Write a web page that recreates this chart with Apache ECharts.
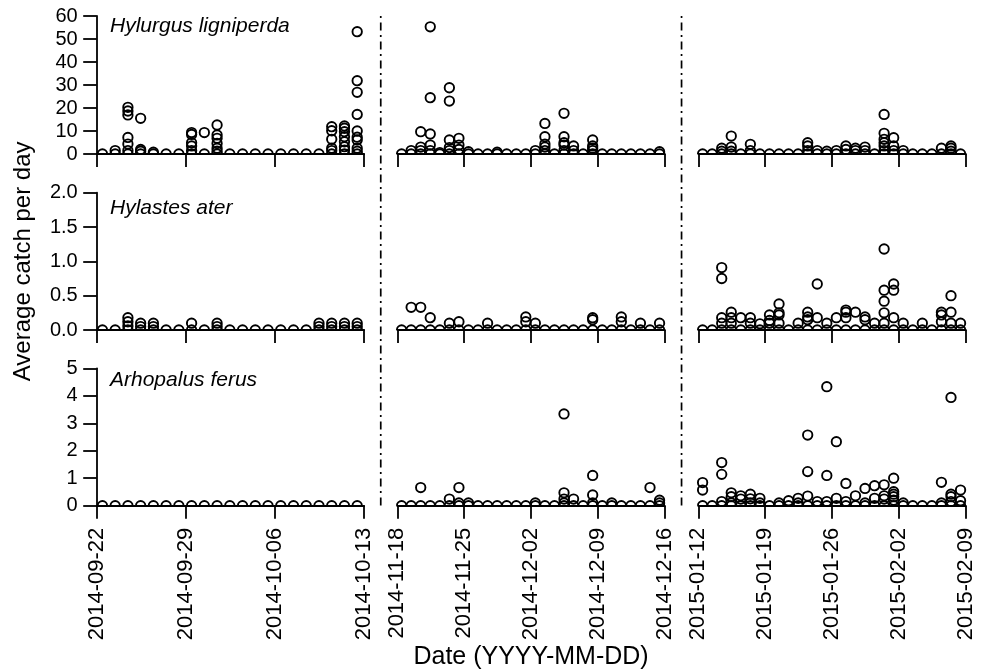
<!DOCTYPE html>
<html><head><meta charset="utf-8">
<script src="https://cdn.jsdelivr.net/npm/echarts@6/dist/echarts.min.js"></script>
<style>html,body{margin:0;padding:0;background:#fff}#c{width:987px;height:672px}</style>
</head><body><div id="c"></div>
<script>
// ---------------- DATA ----------------
const species = ['Hylurgus ligniperda', 'Hylastes ater', 'Arhopalus ferus'];
const periodLength = [21, 28, 28]; // days shown in each period panel
const tickLabelsP1 = ['2014-09-22', '2014-09-29', '2014-10-06', '2014-10-13'];
const tickLabelsP2 = ['2014-11-18', '2014-11-25', '2014-12-02', '2014-12-09', '2014-12-16'];
const tickLabelsP3 = ['2015-01-12', '2015-01-19', '2015-01-26', '2015-02-02', '2015-02-09'];
const yMax = [60, 2, 5];
const yStep = [10, 0.5, 1];

// collection days (days after period start) – every trap had zero catches on these days
const sampleDaysP1 = [0.45,1.45,2.45,3.45,4.45,5.45,6.45,7.45,8.45,9.45,10.45,11.45,12.45,13.45,14.45,15.45,16.45,17.45,18.45,19.45,20.45];
const sampleDaysP2 = [0.45,1.45,2.45,3.45,4.45,5.45,6.45,7.45,8.45,9.45,10.45,11.45,12.45,13.45,14.45,15.45,16.45,17.45,18.45,19.45,20.45,21.45,22.45,23.45,24.45,25.45,26.45,27.45];
const sampleDaysP3 = [0.45,1.45,2.45,3.45,4.45,5.45,6.45,7.45,8.45,9.45,10.45,11.45,12.45,13.45,14.45,15.45,16.45,17.45,18.45,19.45,20.45,21.45,22.45,23.45,24.45,25.45,26.45,27.45];

// non-zero catches [day, average catch per day]
const hylurgusP1 = [[1.45,1.5],[2.45,20.3],[2.45,18.7],[2.45,17],[2.45,7.2],[2.45,4.3],[2.45,1.5],[3.45,15.5],[3.45,2],[3.45,1.2],[4.45,0.8],
  [7.45,9.3],[7.45,8.5],[7.45,4.9],[7.45,3.5],[7.45,1.5],[8.45,9.3],[9.45,12.6],[9.45,8.3],[9.45,6.8],[9.45,4.6],[9.45,2.5],[9.45,1.2],
  [18.45,11.9],[18.45,10.1],[18.45,6.4],[18.45,2.5],[18.45,1.5],[19.45,12.2],[19.45,11.2],[19.45,9.7],[19.45,7.5],[19.45,5.3],[19.45,3.2],[19.45,1.7],
  [20.45,53.2],[20.45,31.9],[20.45,26.8],[20.45,17.2],[20.45,10],[20.45,7.3],[20.45,6.1],[20.45,2.5],[20.45,1.2]];
const hylurgusP2 = [[1.45,1.5],[2.45,9.7],[2.45,3],[2.45,1.5],[3.45,55.3],[3.45,24.5],[3.45,8.7],[3.45,3.9],[3.45,1.5],[4.45,0.6],
  [5.45,28.8],[5.45,23],[5.45,6.1],[5.45,2.8],[5.45,1.5],[6.45,6.8],[6.45,3.9],[6.45,2],[7.45,1],[10.45,0.8],[14.45,1.5],
  [15.45,13.3],[15.45,7.5],[15.45,4.3],[15.45,3],[15.45,1.5],[17.45,17.7],[17.45,7.5],[17.45,4.9],[17.45,3.9],[17.45,1.5],
  [18.45,3.5],[18.45,1.5],[20.45,6.1],[20.45,3.5],[20.45,2.5],[20.45,1.5],[27.45,1]];
const hylurgusP3 = [[2.45,2.5],[2.45,1.2],[3.45,7.8],[3.45,3],[3.45,1.2],[5.45,4.2],[5.45,1.5],[11.45,4.9],[11.45,3.5],[11.45,1.5],[12.45,1.5],
  [13.45,1.2],[14.45,1.5],[15.45,3.5],[15.45,2],[16.45,2.5],[16.45,1.5],[17.45,3],[17.45,1.5],
  [19.45,17.2],[19.45,9],[19.45,6.4],[19.45,4.9],[19.45,3.5],[19.45,1.5],[20.45,7.1],[20.45,3.5],[20.45,1.5],[21.45,1.5],
  [25.45,2.5],[26.45,3.5],[26.45,2.5],[26.45,1.2]];
const hylastesP1 = [[2.45,0.18],[2.45,0.12],[2.45,0.06],[3.45,0.1],[3.45,0.05],[4.45,0.1],[4.45,0.05],[7.45,0.1],[9.45,0.1],[9.45,0.05],
  [17.45,0.1],[17.45,0.05],[18.45,0.1],[18.45,0.05],[19.45,0.1],[19.45,0.05],[20.45,0.1],[20.45,0.05]];
const hylastesP2 = [[1.45,0.33],[2.45,0.33],[3.45,0.18],[5.45,0.1],[6.45,0.12],[9.45,0.1],[13.45,0.19],[13.45,0.12],[14.45,0.1],
  [20.45,0.18],[20.45,0.15],[23.45,0.19],[23.45,0.12],[25.45,0.1],[27.45,0.1]];
const hylastesP3 = [[2.45,0.91],[2.45,0.75],[2.45,0.18],[2.45,0.1],[3.45,0.26],[3.45,0.18],[3.45,0.1],[4.45,0.18],[5.45,0.18],[5.45,0.1],[6.45,0.09],
  [7.45,0.22],[7.45,0.14],[7.45,0.1],[8.45,0.38],[8.45,0.25],[8.45,0.22],[8.45,0.1],[10.45,0.1],[11.45,0.26],[11.45,0.19],[11.45,0.15],
  [12.45,0.67],[12.45,0.18],[13.45,0.1],[14.45,0.18],[15.45,0.29],[15.45,0.26],[15.45,0.18],[16.45,0.26],[17.45,0.19],[17.45,0.15],[18.45,0.1],
  [19.45,1.18],[19.45,0.58],[19.45,0.42],[19.45,0.25],[19.45,0.1],[20.45,0.67],[20.45,0.58],[20.45,0.18],[21.45,0.1],[23.45,0.1],
  [25.45,0.26],[25.45,0.22],[25.45,0.12],[26.45,0.5],[26.45,0.26],[26.45,0.1],[27.45,0.1]];
const arhopalusP1 = [];
const arhopalusP2 = [[2.45,0.66],[5.45,0.24],[6.45,0.66],[6.45,0.1],[7.45,0.1],[14.45,0.1],[17.45,3.34],[17.45,0.47],[17.45,0.24],[17.45,0.1],
  [18.45,0.24],[20.45,1.1],[20.45,0.39],[20.45,0.1],[22.45,0.1],[26.45,0.66],[27.45,0.2],[27.45,0.1]];
const arhopalusP3 = [[0.45,0.84],[0.45,0.57],[2.45,1.57],[2.45,1.14],[2.45,0.15],[3.45,0.47],[3.45,0.33],[3.45,0.1],[4.45,0.36],[4.45,0.24],
  [5.45,0.42],[5.45,0.25],[5.45,0.1],[6.45,0.27],[6.45,0.1],[8.45,0.1],[9.45,0.18],[10.45,0.27],[10.45,0.1],
  [11.45,2.57],[11.45,1.24],[11.45,0.35],[12.45,0.15],[13.45,4.33],[13.45,1.1],[13.45,0.15],[14.45,2.33],[14.45,0.27],
  [15.45,0.81],[15.45,0.15],[16.45,0.36],[17.45,0.63],[17.45,0.1],[18.45,0.73],[18.45,0.27],[19.45,0.76],[19.45,0.36],[19.45,0.24],
  [20.45,1.0],[20.45,0.51],[20.45,0.42],[20.45,0.33],[20.45,0.2],[21.45,0.1],[25.45,0.85],[25.45,0.1],
  [26.45,3.94],[26.45,0.42],[26.45,0.33],[26.45,0.15],[27.45,0.57],[27.45,0.18]];

// ---------------- LAYOUT ----------------
const tickLabels = [tickLabelsP1, tickLabelsP2, tickLabelsP3];
const sampleDays = [sampleDaysP1, sampleDaysP2, sampleDaysP3];
const catches = [[hylurgusP1, hylurgusP2, hylurgusP3], [hylastesP1, hylastesP2, hylastesP3], [arhopalusP1, arhopalusP2, arhopalusP3]];
const colLeft = [96.7, 397.3, 698.3];
const colWidth = 267.5;
const rowTop = [16, 192.7, 368.3];
const rowHeight = [138, 137.3, 137.4];
const speciesY = [27.2, 210, 381.2];
const FONT = '"Liberation Sans", Arial, Helvetica, sans-serif';
const LW = 1.8;

const grid = [], xAxis = [], yAxis = [], series = [];
for (let r = 0; r < 3; r++) {
  for (let c = 0; c < 3; c++) {
    const i = r * 3 + c;
    grid.push({ left: colLeft[c], top: rowTop[r], width: colWidth, height: rowHeight[r] });
    const xa = {
      gridIndex: i, type: 'value', min: 0, max: periodLength[c], interval: 7,
      axisLine: { show: true, onZero: false, lineStyle: { color: '#000', width: LW } },
      axisTick: { show: true, inside: false, length: 13, lineStyle: { color: '#000', width: LW } },
      axisLabel: { show: r === 2, rotate: 90, margin: 22, color: '#000', fontSize: 22, fontFamily: FONT,
        formatter: (v) => tickLabels[c][Math.round(v / 7)] || '' },
      splitLine: { show: false }
    };
    if (r === 2 && c === 1) {
      xa.name = 'Date (YYYY-MM-DD)';
      xa.nameLocation = 'middle';
      xa.nameGap = 138;
      xa.nameTextStyle = { color: '#000', fontSize: 25, fontFamily: FONT };
    }
    xAxis.push(xa);
    const ya = {
      gridIndex: i, type: 'value', min: 0, max: yMax[r], interval: yStep[r], show: c === 0,
      axisLine: { show: true, lineStyle: { color: '#000', width: LW } },
      axisTick: { show: true, inside: false, length: 13.5, lineStyle: { color: '#000', width: LW } },
      axisLabel: { margin: 19, color: '#000', fontSize: 20, fontFamily: FONT,
        formatter: (v) => r === 1 ? v.toFixed(1) : String(v) },
      splitLine: { show: false }
    };
    if (r === 1 && c === 0) {
      ya.name = 'Average catch per day';
      ya.nameLocation = 'middle';
      ya.nameGap = 61;
      ya.nameTextStyle = { color: '#000', fontSize: 24, fontFamily: FONT };
    }
    yAxis.push(ya);
    const pts = sampleDays[c].map(d => [d, 0]).concat(catches[r][c]);
    series.push({
      type: 'custom', xAxisIndex: i, yAxisIndex: i, clip: false, data: pts, silent: true,
      renderItem: (params, api) => {
        const p = api.coord([api.value(0), api.value(1)]);
        const cs = params.coordSys;
        return {
          type: 'circle',
          shape: { cx: p[0], cy: p[1], r: 4.7 },
          style: { fill: 'none', stroke: '#000', lineWidth: 1.9 },
          clipPath: { type: 'rect', shape: { x: cs.x - 20, y: cs.y - 20, width: cs.width + 40, height: cs.height + 20 } }
        };
      }
    });
  }
}

const graphic = [];
for (let r = 0; r < 3; r++) {
  graphic.push({ type: 'text', left: 110, top: speciesY[r] - 12, style: { text: species[r], fill: '#000',
    font: 'italic 21px ' + FONT } });
}
const yTop = rowTop[0], yBot = rowTop[2] + rowHeight[2];
for (let k = 0; k < 2; k++) {
  const x = (colLeft[k] + colWidth + colLeft[k + 1]) / 2;
  graphic.push({ type: 'line', shape: { x1: x, y1: yTop, x2: x, y2: yBot },
    style: { stroke: '#000', lineWidth: 1.7, lineDash: [2, 4.5, 8, 4.5] } });
}

const chart = echarts.init(document.getElementById('c'), null, { renderer: 'canvas' });
chart.setOption({ backgroundColor: '#fff', animation: false, grid, xAxis, yAxis, series, graphic });
</script></body></html>
